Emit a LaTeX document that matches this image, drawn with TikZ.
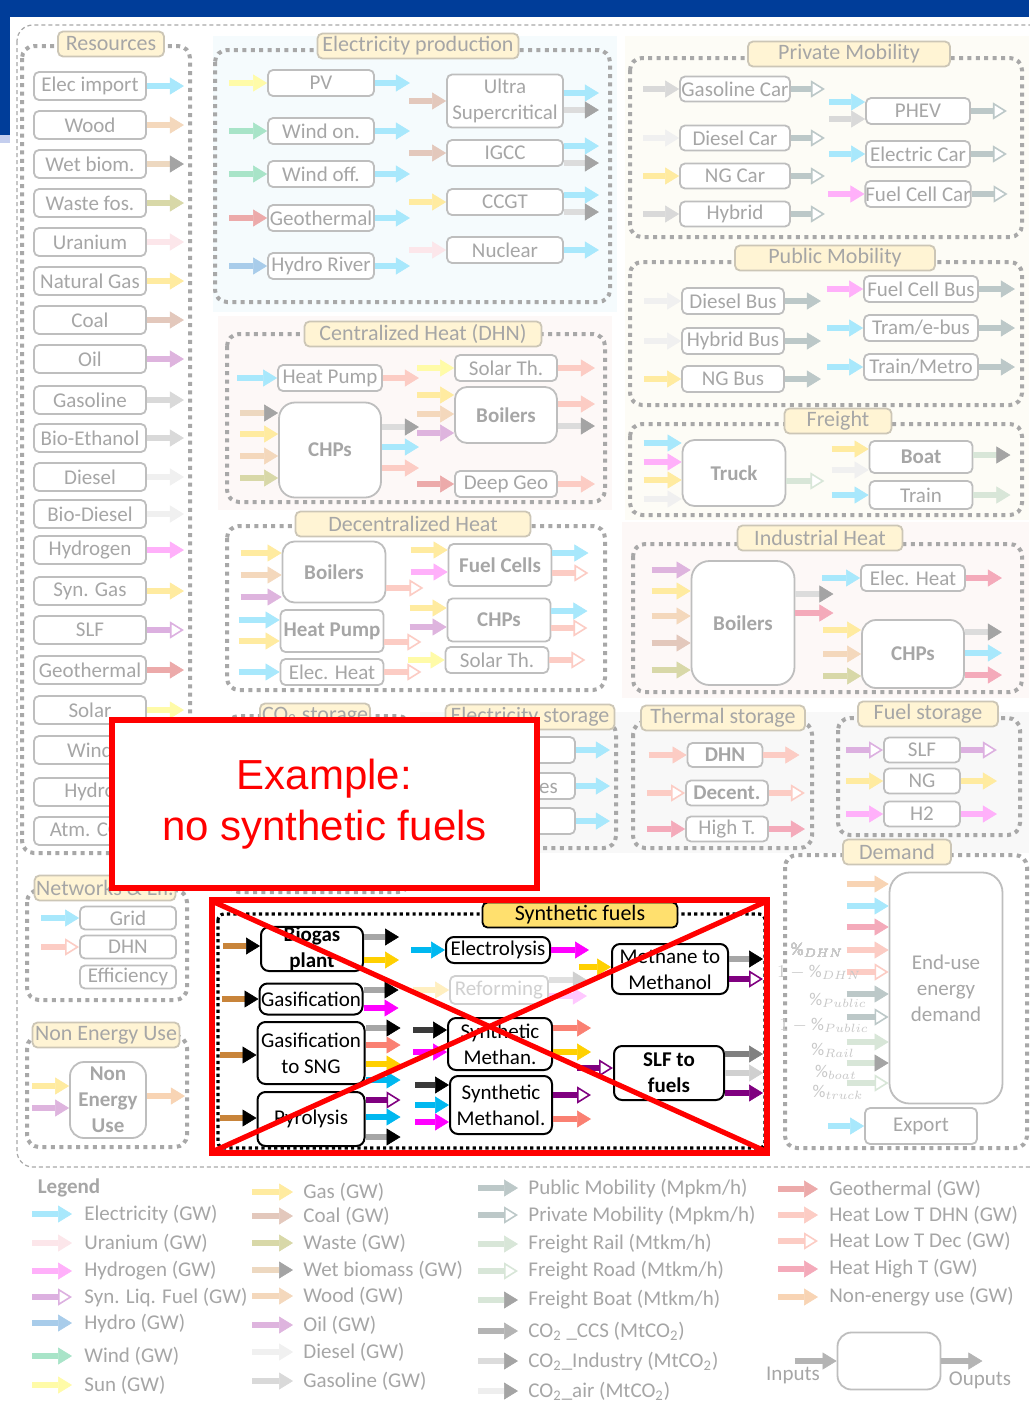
\documentclass[tikz,border=0pt]{standalone}
\usepackage{fontspec}
\setmainfont{Carlito}
\newfontfamily\exfont{Liberation Sans}
\usepackage{tikz}
\usetikzlibrary{arrows.meta}

\definecolor{bandblue}{RGB}{0,61,153}
\definecolor{bandlight}{RGB}{196,206,238}
\definecolor{framegray}{RGB}{168,168,168}
\definecolor{boxgray}{RGB}{190,190,190}
\definecolor{txtgray}{RGB}{166,166,166}
\definecolor{pctgray}{RGB}{200,200,200}
\definecolor{ttlfill}{RGB}{255,244,212}
\definecolor{ttldraw}{RGB}{204,198,182}
\definecolor{bgcyan}{RGB}{245,251,253}
\definecolor{bgcream}{RGB}{253,252,246}
\definecolor{bgpink}{RGB}{253,248,247}
\definecolor{bggray}{RGB}{248,248,248}
\definecolor{tipgray}{RGB}{164,164,164}
\definecolor{celec}{RGB}{168,232,252}
\definecolor{curan}{RGB}{252,230,234}
\definecolor{chyd}{RGB}{255,176,250}
\definecolor{cslf}{RGB}{220,176,224}
\definecolor{chydro}{RGB}{168,204,234}
\definecolor{cwind}{RGB}{168,228,200}
\definecolor{csun}{RGB}{255,251,168}
\definecolor{cgas}{RGB}{255,235,160}
\definecolor{ccoal}{RGB}{227,200,188}
\definecolor{cwaste}{RGB}{216,216,168}
\definecolor{cwetb}{RGB}{237,216,192}
\definecolor{cwood}{RGB}{244,216,188}
\definecolor{coil}{RGB}{222,180,222}
\definecolor{cdies}{RGB}{240,240,240}
\definecolor{cgasol}{RGB}{217,217,217}
\definecolor{cpub}{RGB}{188,200,200}
\definecolor{crail}{RGB}{216,230,216}
\definecolor{cccs}{RGB}{180,180,180}
\definecolor{cco2i}{RGB}{220,220,220}
\definecolor{cco2a}{RGB}{238,238,238}
\definecolor{cgeo}{RGB}{236,170,170}
\definecolor{cdhn}{RGB}{252,204,196}
\definecolor{chigh}{RGB}{244,170,186}
\definecolor{cnon}{RGB}{248,212,180}
\definecolor{sbrown}{RGB}{200,132,58}
\definecolor{sgray}{RGB}{166,166,166}
\definecolor{sgold}{RGB}{255,208,0}
\definecolor{smag}{RGB}{255,0,255}
\definecolor{ssalm}{RGB}{250,128,114}
\definecolor{scyan}{RGB}{0,184,240}
\definecolor{spurp}{RGB}{128,0,128}
\definecolor{sdark}{RGB}{58,58,58}
\definecolor{sdgray}{RGB}{128,128,128}
\definecolor{slgray}{RGB}{208,208,208}
\definecolor{rgold}{RGB}{255,239,192}
\definecolor{rgray}{RGB}{224,224,224}
\definecolor{rmag}{RGB}{255,200,255}
\definecolor{sgoldfill}{RGB}{255,224,110}

\tikzset{
  ar/.style={line width=3.2pt,draw=#1,-{Triangle[length=7pt,width=8.5pt,line width=0.3pt]}},
  ao/.style={line width=3.2pt,draw=#1,-{Triangle[length=7pt,width=8.5pt,line width=0.8pt,fill=white]}},
  ak/.style 2 args={line width=3.2pt,draw=#1,-{Triangle[length=7pt,width=8.5pt,line width=0.3pt,color=#2]}},
  f-elec/.style={ar=celec}, f-uran/.style={ar=curan}, f-hyd/.style={ar=chyd},
  f-slf/.style={ao=cslf}, f-hydro/.style={ar=chydro}, f-wind/.style={ar=cwind},
  f-sun/.style={ar=csun}, f-gas/.style={ar=cgas}, f-coal/.style={ar=ccoal},
  f-waste/.style={ar=cwaste}, f-wetb/.style={ak={cwetb}{tipgray}}, f-wood/.style={ar=cwood},
  f-oil/.style={ar=coil}, f-dies/.style={ar=cdies}, f-gasol/.style={ar=cgasol},
  f-pub/.style={ar=cpub}, f-priv/.style={ao=cpub}, f-rail/.style={ar=crail},
  f-road/.style={ao=crail}, f-boat/.style={ak={crail}{tipgray}}, f-ccs/.style={ar=cccs},
  f-co2i/.style={ak={cco2i}{tipgray}}, f-co2a/.style={ak={cco2a}{tipgray}},
  f-geo/.style={ar=cgeo}, f-dhn/.style={ar=cdhn}, f-dec/.style={ao=cdhn},
  f-high/.style={ar=chigh}, f-nonen/.style={ar=cnon},
  f-sbrown/.style={ak={sbrown}{black}}, f-sgray/.style={ak={sgray}{black}},
  f-sgold/.style={ar=sgold}, f-smag/.style={ar=smag}, f-ssalm/.style={ar=ssalm},
  f-scyan/.style={ar=scyan}, f-spurpo/.style={ao=spurp}, f-spurp/.style={ar=spurp},
  f-sdark/.style={ak={sdark}{black}}, f-sdgray/.style={ar=sdgray}, f-slgray/.style={ar=slgray},
  f-rgold/.style={ar=rgold}, f-rgray/.style={ak={rgray}{slgray}}, f-rmag/.style={ar=rmag}
}
\newcommand{\flin}[4][38]{\draw[f-#2] ([shift={(-#1,#4)}]#3.west) -- ([shift={(0,#4)}]#3.west);}
\newcommand{\flout}[4][36]{\draw[f-#2] ([shift={(0,#4)}]#3.east) -- ++(#1,0);}

\begin{document}
\begin{tikzpicture}[x=0.5pt,y=-0.5pt,font=\fontsize{10.5}{13}\selectfont,
  unit/.style={draw=boxgray,fill=white,text=txtgray,rounded corners=2.5pt,line width=0.9pt,inner sep=0pt,align=center,minimum width=#1*0.5pt,minimum height=13pt},
  unit/.default=104,
  ttl/.style={draw=ttldraw,fill=ttlfill,text=txtgray,rounded corners=2.5pt,line width=0.9pt,inner sep=0pt,minimum width=#1*0.5pt,minimum height=12.5pt,font=\fontsize{11}{13}\selectfont},
  grp/.style={draw=framegray,line width=2pt,dash pattern=on 2pt off 2.2pt,rounded corners=6pt},
  sunit/.style={unit=#1,draw=black,text=black,line width=1pt,rounded corners=4pt},
  pct/.style={text=pctgray,inner sep=0pt,font=\fontsize{9}{10}\selectfont},
  lab/.style={anchor=west,text=txtgray,inner sep=0pt}]
\useasboundingbox (0,0) rectangle (1029,1404);
\fill[bandblue] (0,0) rectangle (1029,17);
\fill[bandblue] (0,0) rectangle (10,135);
\fill[bandlight] (0,135) rectangle (10,143);
\fill[white,rounded corners=8pt] (10,17) rectangle (1060,1420);
\draw[framegray,line width=0.6pt,dash pattern=on 2pt off 1.5pt,rounded corners=8pt] (17,25) rectangle (1060,1167);
\fill[bgcyan] (213,36) rectangle (617,312);
\fill[bgcream] (625,36) rectangle (1029,520);
\fill[bgpink] (218,316) rectangle (612,510);
\fill[bgpink] (622,522) rectangle (1029,698);
\fill[bggray] (420,712) rectangle (1029,853);

% Resources
\draw[grp] (22,46) rectangle (190,853);
\node[ttl=106] (resT) at (111,44) {Resources};
\foreach \t/\y/\fl in {Elec import/86/elec,Wood/125/wood,Wet biom./164/wetb,Waste fos./203/waste,Uranium/242/uran,Natural Gas/281/gas,Coal/320/coal,Oil/359/oil,Gasoline/400/gasol,Bio-Ethanol/438/gasol,Diesel/477/dies,Bio-Diesel/514/dies,Hydrogen/550/hyd,Syn. Gas/591/gas,SLF/630/slf,Geothermal/670/geo,Solar/710/sun,Wind/750/wind,Hydro/792/hydro,Atm. CO\textsubscript{2}/831/ccs}
{
  \node[unit=112,minimum height=14pt] (r\y) at (90,\y) {\t};
  \flout[37]{\fl}{r\y}{0}
}

% Electricity production
\draw[grp] (215,50) rectangle (610,302);
\node[ttl=201] (elT) at (418,46) {Electricity production};
\foreach \t/\y/\fl in {PV/83/sun,Wind on./131/wind,Wind off./174/wind,Geothermal/218/geo,Hydro River/266/hydro}
{
  \node[unit=106] (e\y) at (321,\y) {\t};
  \flin{\fl}{e\y}{0}
  \flout[35]{elec}{e\y}{0}
}
\node[unit=116,minimum height=26.5pt] (usc) at (505,101) {Ultra\\Supercritical};
\node[unit=116] (igcc) at (505,153) {IGCC};
\node[unit=116] (ccgt) at (505,202) {CCGT};
\node[unit=116] (nuc) at (505,250) {Nuclear};
\flin[37]{coal}{usc}{0} \flout[35]{elec}{usc}{-8} \flout[35]{co2i}{usc}{9}
\flin[37]{coal}{igcc}{0} \flout[35]{elec}{igcc}{-7} \flout[35]{co2i}{igcc}{10}
\flin[37]{gas}{ccgt}{0} \flout[35]{elec}{ccgt}{-7} \flout[35]{co2i}{ccgt}{10}
\flin[37]{uran}{nuc}{0} \flout[35]{elec}{nuc}{0}

% Private mobility
\draw[grp] (630,58) rectangle (1022,237);
\node[ttl=202] (prT) at (849,54) {Private Mobility};
\foreach \t/\y/\fl in {Gasoline Car/89/gasol,Diesel Car/138/dies,NG Car/176/gas,Hybrid/214/gasol}
{
  \node[unit=110,minimum height=12.5pt] (p\y) at (735,\y) {\t};
  \flin[36]{\fl}{p\y}{0}
  \flout[34]{priv}{p\y}{0}
}
\node[unit=104] (phev) at (918,111) {PHEV};
\node[unit=104] (ecar) at (918,154) {Electric Car};
\node[unit=104] (fcar) at (918,194) {Fuel Cell Car};
\flin[36]{elec}{phev}{-9} \flin[36]{gasol}{phev}{8} \flout[36]{priv}{phev}{0}
\flin[36]{elec}{ecar}{0} \flout[36]{priv}{ecar}{0}
\flin[36]{hyd}{fcar}{0} \flout[36]{priv}{fcar}{0}

% Public mobility
\draw[grp] (630,262) rectangle (1022,405);
\node[ttl=200] (puT) at (835,258) {Public Mobility};
\foreach \t/\y/\fl in {Diesel Bus/301/dies,Hybrid Bus/341/dies,NG Bus/379/gas}
{
  \node[unit=102] (b\y) at (733,\y) {\t};
  \flin[37]{\fl}{b\y}{0}
  \flout[36]{pub}{b\y}{0}
}
\node[unit=114] (fcbus) at (921,289) {Fuel Cell Bus};
\node[unit=114] (tram) at (921,328) {Tram/e-bus};
\node[unit=114] (metro) at (921,367) {Train/Metro};
\flin[36]{hyd}{fcbus}{0} \flout[36]{pub}{fcbus}{0}
\flin[36]{elec}{tram}{0} \flout[36]{pub}{tram}{0}
\flin[36]{elec}{metro}{0} \flout[36]{pub}{metro}{0}

% Freight
\draw[grp] (630,424) rectangle (1022,515);
\node[ttl=107] (frT) at (838,421) {Freight};
\node[unit=103,minimum height=33pt,rounded corners=6pt] (truck) at (734,473) {\textbf{Truck}};
\flin{elec}{truck}{-30} \flin{hyd}{truck}{-11} \flin{gas}{truck}{7} \flin{dies}{truck}{26}
\flout[38]{road}{truck}{8}
\node[unit=103,minimum height=16pt] (boat) at (921,457) {\textbf{Boat}};
\node[unit=103,minimum height=14pt] (train) at (921,495) {Train};
\flin[37]{gas}{boat}{-8} \flin[37]{dies}{boat}{13} \flout[37]{boat}{boat}{-2}
\flin[37]{elec}{train}{0} \flout[37]{rail}{train}{0}

% Centralized heat
\draw[grp] (227,334) rectangle (605,502);
\node[ttl=237] (chT) at (423,334) {Centralized Heat (DHN)};
\node[unit=104] (dhp) at (330,378) {Heat Pump};
\node[unit=102,minimum height=47.5pt,rounded corners=8pt] (dchp) at (330,450) {\textbf{CHPs}};
\node[unit=102] (dsol) at (506,368) {Solar Th.};
\node[unit=102,minimum height=28pt,rounded corners=6pt] (dboil) at (506,415) {\textbf{Boilers}};
\node[unit=102] (dgeo) at (506,484) {Deep Geo};
\flin[40]{elec}{dhp}{0} \flout{dhn}{dhp}{0}
\flin{wetb}{dchp}{-37} \flin{gas}{dchp}{-16} \flin{wood}{dchp}{6} \flin{waste}{dchp}{28}
\flout[37]{co2i}{dchp}{-23} \flout[37]{elec}{dchp}{-3} \flout[37]{dhn}{dchp}{18}
\flin[37]{sun}{dsol}{0} \flout[37]{dhn}{dsol}{0}
\flin[37]{gas}{dboil}{-20} \flin[37]{wood}{dboil}{-1} \flin[37]{oil}{dboil}{18}
\flout[37]{dhn}{dboil}{-11} \flout[37]{co2i}{dboil}{11}
\flin[37]{geo}{dgeo}{0} \flout[37]{dhn}{dgeo}{0}

% Decentralized heat
\draw[grp] (227,526) rectangle (605,690);
\node[ttl=235] (dcT) at (413,524) {Decentralized Heat};
\node[unit=103,minimum height=30.5pt,rounded corners=6pt] (xboil) at (334,572) {\textbf{Boilers}};
\node[unit=103,minimum height=21pt] (xhp) at (332,631) {\textbf{Heat Pump}};
\node[unit=103] (xeh) at (332,672) {Elec. Heat};
\node[unit=103,minimum height=21pt] (xfc) at (500,565) {\textbf{Fuel Cells}};
\node[unit=103,minimum height=21.5pt] (xchp) at (499,620) {\textbf{CHPs}};
\node[unit=103] (xsol) at (497,660) {Solar Th.};
\flin[41]{gas}{xboil}{-19} \flin[41]{wood}{xboil}{3} \flin[41]{oil}{xboil}{25} \flout[37]{dec}{xboil}{16}
\flin[41]{elec}{xhp}{-11} \flin[41]{gas}{xhp}{10} \flout[37]{dec}{xhp}{11}
\flin[41]{elec}{xeh}{0} \flout[37]{dec}{xeh}{0}
\flin[37]{gas}{xfc}{-15} \flin[37]{hyd}{xfc}{7} \flout{elec}{xfc}{-12} \flout{dec}{xfc}{8}
\flin[37]{gas}{xchp}{-12} \flin[37]{oil}{xchp}{7} \flout{elec}{xchp}{-9} \flout{dec}{xchp}{8}
\flin[37]{sun}{xsol}{0} \flout{dec}{xsol}{0}

% Industrial heat
\draw[grp] (633,544) rectangle (1022,692);
\node[ttl=165] (inT) at (820,538) {Industrial Heat};
\node[unit=103,minimum height=62pt,rounded corners=9pt] (iboil) at (743,623) {\textbf{Boilers}};
\node[unit=104] (ieh) at (913,578) {Elec. Heat};
\node[unit=102,minimum height=34pt,rounded corners=7pt] (ichp) at (913,654) {\textbf{CHPs}};
\flin[39]{oil}{iboil}{-53} \flin[39]{gas}{iboil}{-32} \flin[39]{wood}{iboil}{-7} \flin[39]{coal}{iboil}{20} \flin[39]{waste}{iboil}{47}
\flout[38]{co2i}{iboil}{-29} \flout[38]{high}{iboil}{-10}
\flin{elec}{ieh}{0} \flout{high}{ieh}{0}
\flin{gas}{ichp}{-24} \flin{wood}{ichp}{0} \flin{waste}{ichp}{22}
\flout[37]{co2i}{ichp}{-22} \flout[37]{elec}{ichp}{-1} \flout[37]{high}{ichp}{21}

% Storage
\draw[grp] (227,716) rectangle (410,892);
\node[ttl=110] (coT) at (315,716) {CO\textsubscript{2} storage};
\draw[grp] (425,722) rectangle (616,848);
\node[ttl=169] (esT) at (530,717) {Electricity storage};
\node[unit=110] (es1) at (520,750) {};
\node[unit=110] (es2) at (520,786) {Batteries};
\node[unit=110] (es3) at (520,821) {};
\flout[34]{elec}{es1}{0} \flout[34]{elec}{es2}{0} \flout[34]{elec}{es3}{0}
\draw[grp] (633,722) rectangle (812,848);
\node[ttl=164] (thT) at (723,718) {Thermal storage};
\node[unit=75,minimum height=12pt] (tdhn) at (725,755) {\textbf{DHN}};
\node[unit=82,minimum height=12.5pt] (tdec) at (727,793) {\textbf{Decent.}};
\node[unit=82,minimum height=12.5pt] (thigh) at (727,829) {High T.};
\flin{dhn}{tdhn}{0} \flout{dhn}{tdhn}{0}
\flin{dec}{tdec}{0} \flout{dec}{tdec}{0}
\flin{high}{thigh}{0} \flout{high}{thigh}{0}
\draw[grp] (838,718) rectangle (1020,835);
\node[ttl=140] (fsT) at (928,714) {Fuel storage};
\node[unit=76,minimum height=12.5pt] (fslf) at (922,750) {SLF};
\node[unit=76,minimum height=12.5pt] (fng) at (922,781) {NG};
\node[unit=76,minimum height=12.5pt] (fh2) at (922,814) {H2};
\flin[37]{slf}{fslf}{0} \flout{slf}{fslf}{0}
\flin[37]{gas}{fng}{0} \flout{gas}{fng}{0}
\flin[37]{hyd}{fh2}{0} \flout{hyd}{fh2}{0}

% Demand
\draw[grp] (785,855) rectangle (1027,1148);
\node[ttl=108] (deT) at (897,852) {Demand};
\node[unit=113,minimum height=115.5pt,rounded corners=10pt] (dem) at (946,988) {End-use\\energy\\demand};
\foreach \fl/\dy in {nonen/-104,elec/-82,high/-61,dhn/-38,dec/-16,pub/6,priv/29,rail/54,boat/75,road/95}
  \flin[42]{\fl}{dem}{\dy}
\node[pct] (pdhn) at (817,950) {$\%_{DHN}$};
\node[pct] (qdhn) at (819,972) {$1-\%_{DHN}$};
\node[pct] (ppub) at (838,1000) {$\%_{Public}$};
\node[pct] (qpub) at (824,1025) {$1-\%_{Public}$};
\node[pct] (prail) at (833,1050) {$\%_{Rail}$};
\node[pct] (pboat) at (836,1072) {$\%_{boat}$};
\node[pct] (ptruck) at (838,1092) {$\%_{truck}$};
\node[unit=112,minimum height=18pt] (expo) at (921,1126) {Export};
\flin[36]{elec}{expo}{0}

% Networks and non energy use
\draw[grp] (27,890) rectangle (187,1000);
\node[ttl=141] (nwT) at (105,888) {Networks \& Eff.};
\node[unit=96,minimum height=11.5pt] (grid) at (128,918) {Grid};
\node[unit=96,minimum height=11.5pt] (ndhn) at (128,947) {DHN};
\node[unit=96,minimum height=11.5pt] (neff) at (128,977) {Efficiency};
\flin{elec}{grid}{0} \flin{dec}{ndhn}{0}
\draw[grp] (27,1036) rectangle (187,1147);
\node[ttl=147] (neT) at (106,1035) {Non Energy Use};
\node[unit=76,minimum height=38pt,rounded corners=7pt] (neu) at (108,1100) {\textbf{Non}\\\textbf{Energy}\\\textbf{Use}};
\flin[37]{gas}{neu}{-14} \flin[37]{oil}{neu}{8} \flout[38]{nonen}{neu}{-4}

% Synthetic fuels
\draw[black,line width=1.6pt,dash pattern=on 1.6pt off 1.6pt,rounded corners=3pt] (218,914) rectangle (765,1148);
\node[ttl=195,fill=sgoldfill,draw=black,text=black] (syT) at (580,915) {Synthetic fuels};
\node[sunit=102,minimum height=21pt] (bgas) at (312,949) {\textbf{Biogas}\\\textbf{plant}};
\node[sunit=103,minimum height=15.5pt] (gasi) at (311,999) {Gasification};
\node[sunit=107,minimum height=31pt] (gsng) at (311,1053) {Gasification\\to SNG};
\node[sunit=107,minimum height=27pt] (pyro) at (311,1119) {Pyrolysis};
\node[sunit=104] (elys) at (498,950) {Electrolysis};
\node[unit=98,minimum height=14pt,draw=slgray,text=slgray] (refo) at (499,990) {Reforming};
\node[sunit=104,minimum height=26pt] (smeth) at (500,1044) {Synthetic\\Methan.};
\node[sunit=102,minimum height=29pt] (smol) at (501,1105) {Synthetic\\Methanol.};
\node[sunit=116,minimum height=25pt] (mtm) at (670,969) {Methane to\\Methanol};
\node[sunit=110,minimum height=27pt] (slft) at (669,1073) {\textbf{SLF to}\\\textbf{fuels}};
\flin[37]{sbrown}{bgas}{-3} \flout[35]{sgray}{bgas}{-12} \flout[35]{sgold}{bgas}{11}
\flin[37]{sbrown}{gasi}{0} \flout[35]{sgray}{gasi}{-9} \flout[35]{smag}{gasi}{9}
\flin[37]{sbrown}{gsng}{2} \flout[35]{sgray}{gsng}{-25} \flout[35]{ssalm}{gsng}{-8} \flout[35]{sgold}{gsng}{11} \flout[35]{scyan}{gsng}{27}
\flin[37]{sbrown}{pyro}{-1} \flout[35]{spurpo}{pyro}{-19} \flout[35]{scyan}{pyro}{-2} \flout[35]{sgray}{pyro}{18}
\flin[34]{scyan}{elys}{0} \flout[38]{smag}{elys}{0}
\flin[36]{rgold}{refo}{0} \flout[38]{rgray}{refo}{-10} \flout[38]{rmag}{refo}{6}
\flin[34]{sdark}{smeth}{-14} \flin[34]{smag}{smeth}{8} \flout[38]{ssalm}{smeth}{-16} \flout[38]{sgold}{smeth}{8}
\flin[34]{sdark}{smol}{-20} \flin[34]{scyan}{smol}{0} \flin[34]{smag}{smol}{17} \flout[38]{spurpo}{smol}{-10} \flout[38]{ssalm}{smol}{14}
\flin[32]{sgold}{mtm}{-2} \flout[34]{sgray}{mtm}{-10} \flout[34]{spurpo}{mtm}{10}
\flin[36]{spurpo}{slft}{-5} \flout[38]{sdgray}{slft}{-19} \flout[38]{slgray}{slft}{0} \flout[38]{spurp}{slft}{20}
\draw[red,line width=2.6pt] (212,900) rectangle (767,1153);
\draw[red,line width=2.6pt] (214,902) -- (765,1151);
\draw[red,line width=2.6pt] (765,902) -- (214,1151);

% Example label
\node[draw=red,line width=2.6pt,fill=white,text=red,minimum width=212.5pt,minimum height=84pt,align=center,font=\exfont\fontsize{21}{25.5}\selectfont] (exbox) at (324.5,804) {Example:\\no synthetic fuels};

% Legend
\node[text=txtgray,inner sep=0pt,font=\bfseries\fontsize{10.5}{12}\selectfont] (leg) at (69,1188) {Legend};
\foreach \fl/\y/\t in {elec/1214/Electricity (GW),uran/1243/Uranium (GW),hyd/1271/Hydrogen (GW),slf/1297/Syn. Liq. Fuel (GW),hydro/1323/Hydro (GW),wind/1356/Wind (GW),sun/1385/Sun (GW)}
{
  \node[lab] (la\y) at (84,\y) {\t};
  \draw[f-\fl] ([xshift=-26pt]la\y.west) -- ([xshift=-6pt]la\y.west);
}
\foreach \fl/\y/\t in {gas/1192/Gas (GW),coal/1216/Coal (GW),waste/1243/Waste (GW),wetb/1270/Wet biomass (GW),wood/1296/Wood (GW),oil/1325/Oil (GW),dies/1352/Diesel (GW),gasol/1381/Gasoline (GW)}
{
  \node[lab] (lb\y) at (303,\y) {\t};
  \draw[f-\fl] ([xshift=-25.5pt]lb\y.west) -- ([xshift=-5pt]lb\y.west);
}
\foreach \fl/\y/\t in {pub/1188/{Public Mobility (Mpkm/h)},priv/1215/{Private Mobility (Mpkm/h)},rail/1244/{Freight Rail (Mtkm/h)},road/1271/{Freight Road (Mtkm/h)},boat/1300/{Freight Boat (Mtkm/h)},ccs/1331/{CO\textsubscript{2} \_CCS (MtCO\textsubscript{2})},co2i/1361/{CO\textsubscript{2}\_Industry (MtCO\textsubscript{2})},co2a/1391/{CO\textsubscript{2}\_air (MtCO\textsubscript{2})}}
{
  \node[lab] (lc\y) at (528,\y) {\t};
  \draw[f-\fl] ([xshift=-25pt]lc\y.west) -- ([xshift=-5pt]lc\y.west);
}
\foreach \fl/\y/\t in {geo/1189/Geothermal (GW),dhn/1215/Heat Low T DHN (GW),dec/1241/Heat Low T Dec (GW),high/1269/Heat High T (GW),nonen/1297/Non-energy use (GW)}
{
  \node[lab] (ld\y) at (829,\y) {\t};
  \draw[f-\fl] ([xshift=-25.5pt]ld\y.west) -- ([xshift=-5.5pt]ld\y.west);
}
\node[unit=103,minimum height=28.5pt,rounded corners=7pt] (samp) at (889,1361) {};
\flin[42]{ccs}{samp}{0} \flout[41]{ccs}{samp}{0}
\node[text=txtgray] (inp) at (793,1375) {Inputs};
\node[text=txtgray] (outp) at (980,1380) {Ouputs};
\end{tikzpicture}
\end{document}
